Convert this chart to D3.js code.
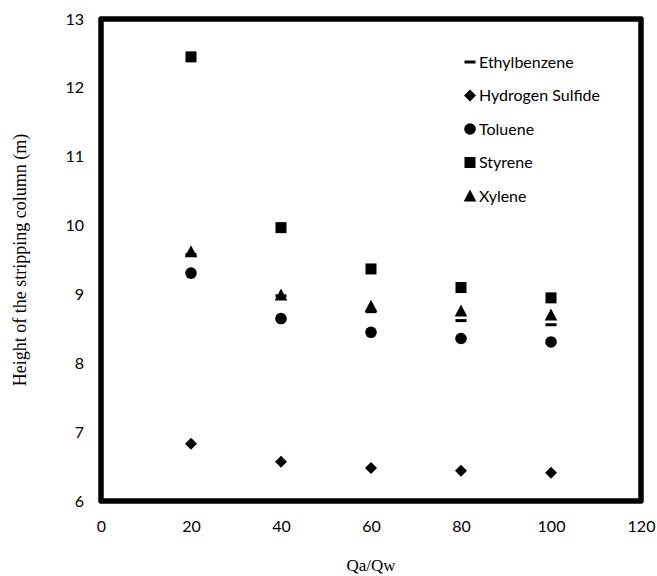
<!DOCTYPE html>
<html>
<head>
<meta charset="utf-8">
<script src="https://cdn.jsdelivr.net/npm/d3@7"></script>
<style>
  body { margin: 0; background: #fff; }
  .tick-label { font-family: Lato, "Open Sans", sans-serif; font-size: 16px; fill: #000; }
  .legend text { font-family: Lato, "Open Sans", sans-serif; font-size: 16px; fill: #000; }
  .axis-title { font-family: "Liberation Serif", "Times New Roman", serif; font-size: 17px; fill: #000; }
</style>
</head>
<body>
<div class="container"></div>
<script>
// Data
var QA_QW = [20, 40, 60, 80, 100];
var ETHYLBENZENE = [9.58, 8.98, 8.75, 8.62, 8.56];
var HYDROGEN_SULFIDE = [6.83, 6.57, 6.48, 6.44, 6.41];
var TOLUENE = [9.31, 8.65, 8.45, 8.36, 8.31];
var STYRENE = [12.45, 9.97, 9.37, 9.10, 8.95];
var XYLENE = [9.62, 8.99, 8.83, 8.76, 8.70];
var X_TICKS = [0, 20, 40, 60, 80, 100, 120];
var Y_TICKS = [6, 7, 8, 9, 10, 11, 12, 13];

var series = [
  {name: 'Ethylbenzene', values: ETHYLBENZENE, shape: 'dash'},
  {name: 'Hydrogen Sulfide', values: HYDROGEN_SULFIDE, shape: 'diamond'},
  {name: 'Toluene', values: TOLUENE, shape: 'circle'},
  {name: 'Styrene', values: STYRENE, shape: 'square'},
  {name: 'Xylene', values: XYLENE, shape: 'triangle'}
];

var width = 657, height = 576;
var margin = {top: 19, right: 16, bottom: 75, left: 101};
var plotW = width - margin.left - margin.right;
var plotH = height - margin.top - margin.bottom;

var xScale = d3.scaleLinear().domain([0, 120]).range([0, plotW]);
var yScale = d3.scaleLinear().domain([6, 13]).range([plotH, 0]);

var svg = d3.select('.container').append('svg')
    .attr('width', width)
    .attr('height', height);

var g = svg.append('g')
    .attr('transform', 'translate(' + margin.left + ',' + margin.top + ')');

// Draws a marker shape centred on 0,0
function drawMarker(sel, shape) {
  if (shape == 'dash') {
    sel.append('rect').attr('x', -5.5).attr('y', -1.5).attr('width', 11).attr('height', 3);
  } else if (shape == 'diamond') {
    sel.append('path').attr('d', 'M0,-6L6,0L0,6L-6,0Z');
  } else if (shape == 'circle') {
    sel.append('circle').attr('r', 5.8);
  } else if (shape == 'square') {
    sel.append('rect').attr('x', -5.5).attr('y', -5.5).attr('width', 11).attr('height', 11);
  } else if (shape == 'triangle') {
    sel.append('path').attr('d', 'M0,-6.5L6.3,5.5L-6.3,5.5Z');
  }
  sel.attr('fill', '#000');
}

// Frame
g.append('rect')
    .attr('x', 0).attr('y', 0)
    .attr('width', plotW).attr('height', plotH)
    .attr('fill', 'none')
    .attr('stroke', '#000')
    .attr('stroke-width', 5.5)
    .attr('stroke-linejoin', 'round');

// Axes (labels only, no tick lines)
var xAxis = g.append('g')
    .attr('transform', 'translate(0,' + plotH + ')')
    .call(d3.axisBottom(xScale).tickValues(X_TICKS).tickSize(0).tickPadding(20));
xAxis.select('.domain').remove();
xAxis.selectAll('text').attr('class', 'tick-label').attr('font-size', null).attr('font-family', null);

var yAxis = g.append('g')
    .call(d3.axisLeft(yScale).tickValues(Y_TICKS).tickSize(0).tickPadding(17).tickFormat(d3.format('d')));
yAxis.select('.domain').remove();
yAxis.selectAll('text').attr('class', 'tick-label').attr('font-size', null).attr('font-family', null);

// Points
series.forEach(function(s) {
  g.selectAll('.pt-' + s.shape)
    .data(s.values)
    .enter().append('g')
      .attr('class', 'pt-' + s.shape)
      .attr('transform', function(d, i) { return 'translate(' + xScale(QA_QW[i]) + ',' + yScale(d) + ')'; })
      .each(function() { drawMarker(d3.select(this), s.shape); });
});

// Legend
var legend = g.append('g').attr('class', 'legend')
    .attr('transform', 'translate(369,43)');
series.forEach(function(s, i) {
  var row = legend.append('g').attr('transform', 'translate(0,' + (i * 33.5) + ')');
  drawMarker(row.append('g'), s.shape);
  row.append('text').attr('x', 9).attr('dy', '0.35em').text(s.name);
});

// Axis titles
svg.append('text')
    .attr('class', 'axis-title')
    .attr('x', margin.left + plotW / 2)
    .attr('y', 571)
    .attr('text-anchor', 'middle')
    .text('Qa/Qw');

svg.append('text')
    .attr('class', 'axis-title')
    .style('font-size', '18px')
    .attr('transform', 'translate(26,' + (margin.top + plotH / 2) + ') rotate(-90)')
    .attr('text-anchor', 'middle')
    .text('Height of the stripping column (m)');
</script>
</body>
</html>
